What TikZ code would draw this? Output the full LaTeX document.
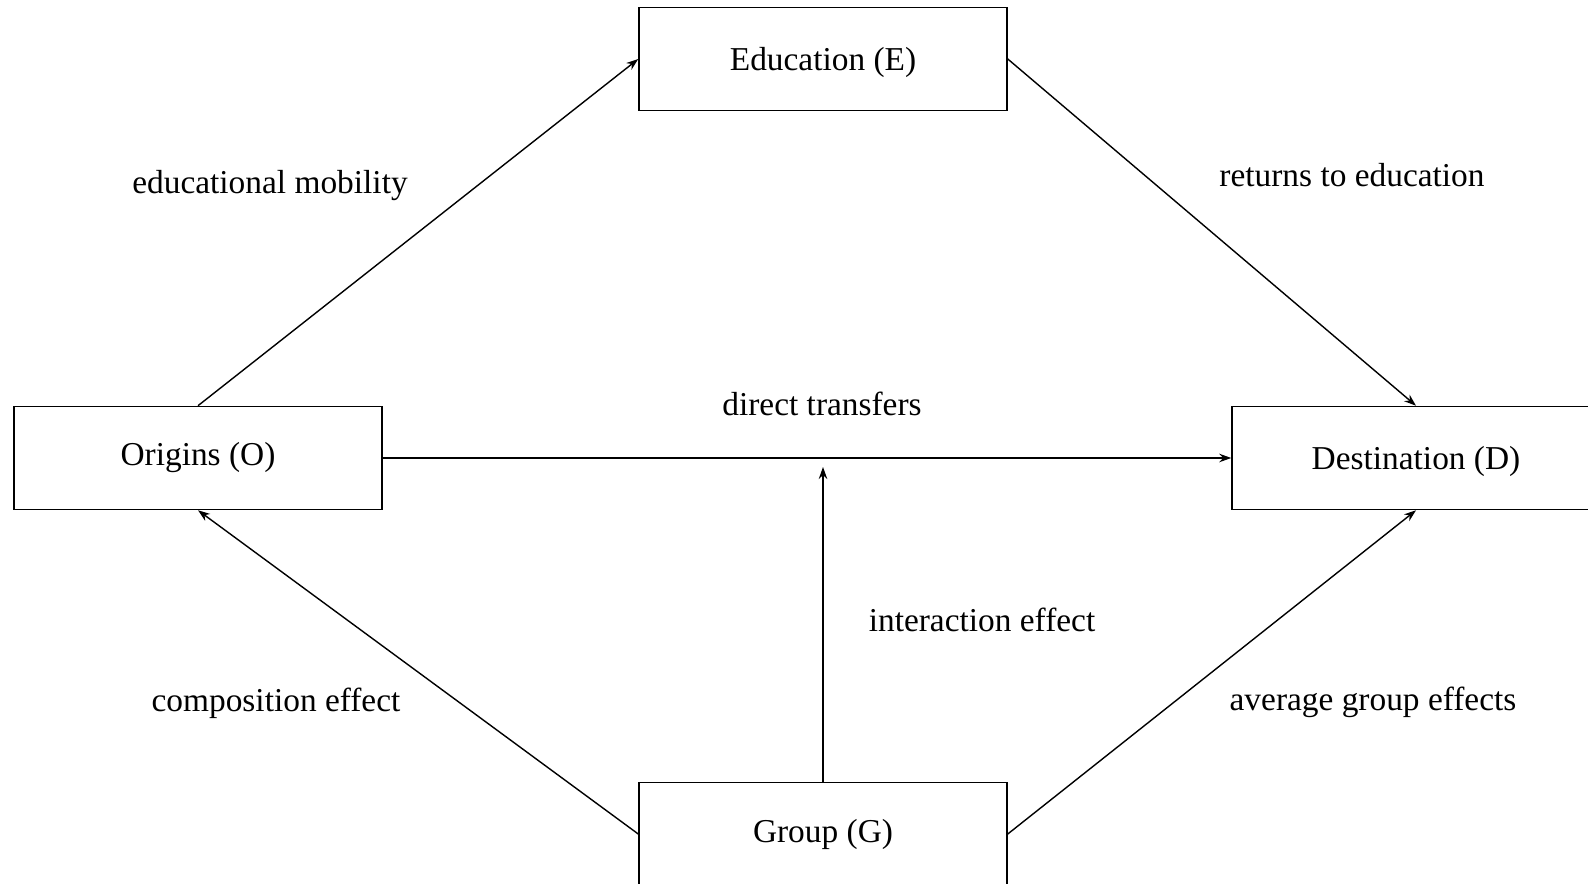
\documentclass[tikz,border=0pt]{standalone}
\usepackage{fontspec}
\setmainfont{Liberation Serif}
\usetikzlibrary{arrows.meta}

\begin{document}
\begin{tikzpicture}[x=0.02cm,y=-0.02cm,
	box/.style={draw, line width=0.9pt, minimum width=7.36cm, minimum height=2.06cm, inner sep=0pt, font=\fontsize{19}{23}\selectfont},
	lbl/.style={font=\fontsize{19}{23}\selectfont},
	link/.style={line width=0.8pt, -{Stealth[length=2.4mm,width=1.7mm]}}]

	% ---- canvas

	\useasboundingbox (0,0) rectangle (1588,884);

	% ---- boxes

	\node[box, text depth=0pt] (E) at (823,59) {Education (E)};
	\node[box] (O) at (198,458) {Origins (O)};
	\node[box, text depth=0pt] (D) at (1416,458) {Destination (D)};
	\node[box] (G) at (823,834) {Group (G)};

	% ---- free end of the interaction arrow

	\coordinate (I) at (823,467);

	% ---- arrows

	\draw[link] (O.north) -- (E.west);
	\draw[link] (E.east) -- (D.north);
	\draw[link] (O.east) -- (D.west);
	\draw[link] (G.north) -- (I);
	\draw[link] (G.west) -- (O.south);
	\draw[link] (G.east) -- (D.south);

	% ---- labels

	\node[lbl] (EM) at (270,186) {educational mobility};
	\node[lbl] (RE) at (1352,175) {returns to education};
	\node[lbl] (DT) at (822,404) {direct transfers};
	\node[lbl] (IE) at (982,620) {interaction effect};
	\node[lbl] (CE) at (276,703) {composition effect};
	\node[lbl] (AG) at (1373,702) {average group effects};

\end{tikzpicture}
\end{document}
